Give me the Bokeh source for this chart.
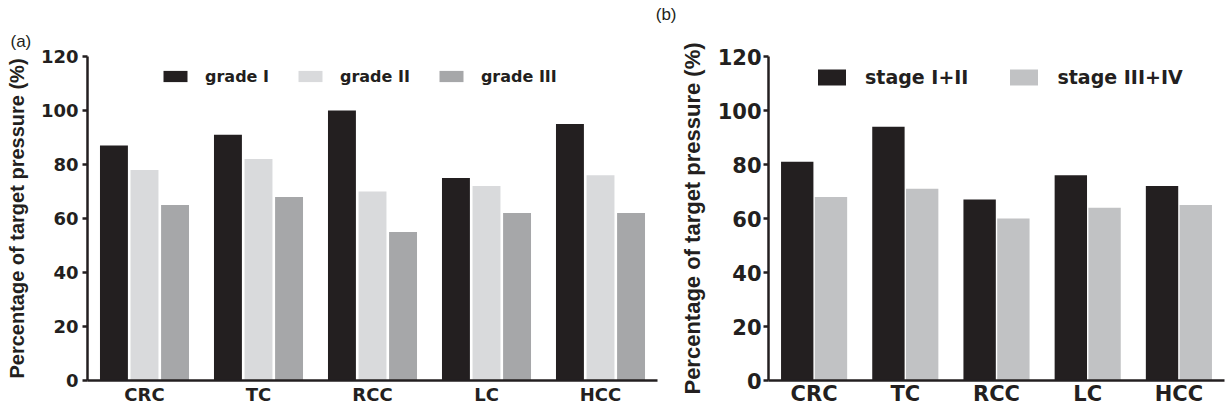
from bokeh.plotting import figure
from bokeh.models import ColumnDataSource, FactorRange, Range1d, Title
from bokeh.transform import dodge
from bokeh.layouts import row
from bokeh.embed import file_html
from bokeh.resources import INLINE

categories = ["CRC", "TC", "RCC", "LC", "HCC"]
grade_I = [87, 91, 100, 75, 95]
grade_II = [78, 82, 70, 72, 76]
grade_III = [65, 68, 55, 62, 62]
stage_I_II = [81, 94, 67, 76, 72]
stage_III_IV = [68, 71, 60, 64, 65]
y_ticks = [0, 20, 40, 60, 80, 100, 120]
y_label = "Percentage of target pressure (%)"

FONT = "DejaVu Sans"
LFONT = "Liberation Sans"
INK = "#231f20"


def style(p, tick_size, label_size, ylabel_size, standoff, tick_standoff, x_standoff):
    p.toolbar_location = None
    p.outline_line_color = None
    p.xgrid.grid_line_color = None
    p.ygrid.grid_line_color = None
    p.background_fill_color = "white"
    p.border_fill_color = "white"
    for ax in (p.xaxis, p.yaxis):
        ax.axis_line_width = 2.5
        ax.axis_line_color = INK
        ax.major_label_text_font = FONT
        ax.major_label_text_font_style = "bold"
        ax.major_label_text_color = INK
        ax.minor_tick_line_color = None
        ax.minor_tick_out = 0
        ax.minor_tick_in = 0
    p.xaxis.major_tick_line_color = None
    p.xaxis.major_tick_out = 0
    p.xaxis.major_tick_in = 0
    p.xaxis.major_label_text_font_size = label_size
    p.xaxis.major_label_standoff = x_standoff
    p.yaxis.ticker = y_ticks
    p.yaxis.major_tick_out = 5
    p.yaxis.major_tick_in = 0
    p.yaxis.major_tick_line_width = 2.5
    p.yaxis.major_tick_line_color = INK
    p.yaxis.major_label_text_font_size = tick_size
    p.yaxis.major_label_standoff = tick_standoff
    p.yaxis.axis_label = y_label
    p.yaxis.axis_label_text_font = LFONT
    p.yaxis.axis_label_text_font_style = "bold"
    p.yaxis.axis_label_text_font_size = ylabel_size
    p.yaxis.axis_label_text_color = INK
    p.yaxis.axis_label_standoff = standoff


def style_legend(p, gw, gh, lh, size, standoff, spacing, loc):
    lg = p.legend[0]
    lg.orientation = "horizontal"
    lg.location = loc
    lg.glyph_width = gw
    lg.glyph_height = gh
    lg.label_height = lh
    lg.label_text_font = FONT
    lg.label_text_font_style = "bold"
    lg.label_text_font_size = size
    lg.label_text_color = INK
    lg.label_standoff = standoff
    lg.spacing = spacing
    lg.padding = 0
    lg.margin = 0
    lg.border_line_color = None
    lg.background_fill_alpha = 0


# ---------- panel (a)
src_a = ColumnDataSource(dict(cat=categories, g1=grade_I, g2=grade_II, g3=grade_III))
pa = figure(x_range=FactorRange(factors=categories), y_range=Range1d(0, 120),
            width=676, height=410, output_backend="svg", toolbar_location=None,
            min_border_left=87, min_border_right=19, min_border_top=56, min_border_bottom=30)
bw = 0.245
off = 0.268
pa.vbar(x=dodge("cat", -off, range=pa.x_range), top="g1", width=bw, source=src_a,
        fill_color="#231f20", line_color=None, legend_label="grade I")
pa.vbar(x=dodge("cat", 0, range=pa.x_range), top="g2", width=bw, source=src_a,
        fill_color="#d9dadc", line_color=None, legend_label="grade II")
pa.vbar(x=dodge("cat", off, range=pa.x_range), top="g3", width=bw, source=src_a,
        fill_color="#a6a7a9", line_color=None, legend_label="grade III")
style(pa, "18px", "18px", "20px", 10, 4, 3)
style_legend(pa, 30, 14, 24, "16px", 15, 26, (73, 292))
pa.add_layout(Title(text="(a)", align="left", offset=-77, standoff=12,
                    text_font=LFONT, text_font_size="17px", text_font_style="normal",
                    text_color=INK), "above")
pa.add_layout(Title(text="(b)", align="right", offset=-19, standoff=0,
                    text_font=LFONT, text_font_size="17px", text_font_style="normal",
                    text_color=INK), "above")

# ---------- panel (b)
src_b = ColumnDataSource(dict(cat=categories, s1=stage_I_II, s2=stage_III_IV))
pb = figure(x_range=FactorRange(factors=categories), y_range=Range1d(0, 120),
            width=550, height=410, output_backend="svg", toolbar_location=None,
            min_border_left=90, min_border_right=2, min_border_top=42, min_border_bottom=26)
bw2 = 0.355
pb.vbar(x=dodge("cat", -0.185, range=pb.x_range), top="s1", width=bw2, source=src_b,
        fill_color="#231f20", line_color=None, legend_label="stage I+II")
pb.vbar(x=dodge("cat", 0.185, range=pb.x_range), top="s2", width=bw2, source=src_b,
        fill_color="#c1c2c4", line_color=None, legend_label="stage III+IV")
style(pb, "21px", "21px", "22px", 10, 2, 1)
style_legend(pb, 35, 20, 26, "19px", 16, 38, (46, 290))

layout = row(pa, pb, spacing=0)
open("out.html", "w").write(file_html(layout, INLINE))
